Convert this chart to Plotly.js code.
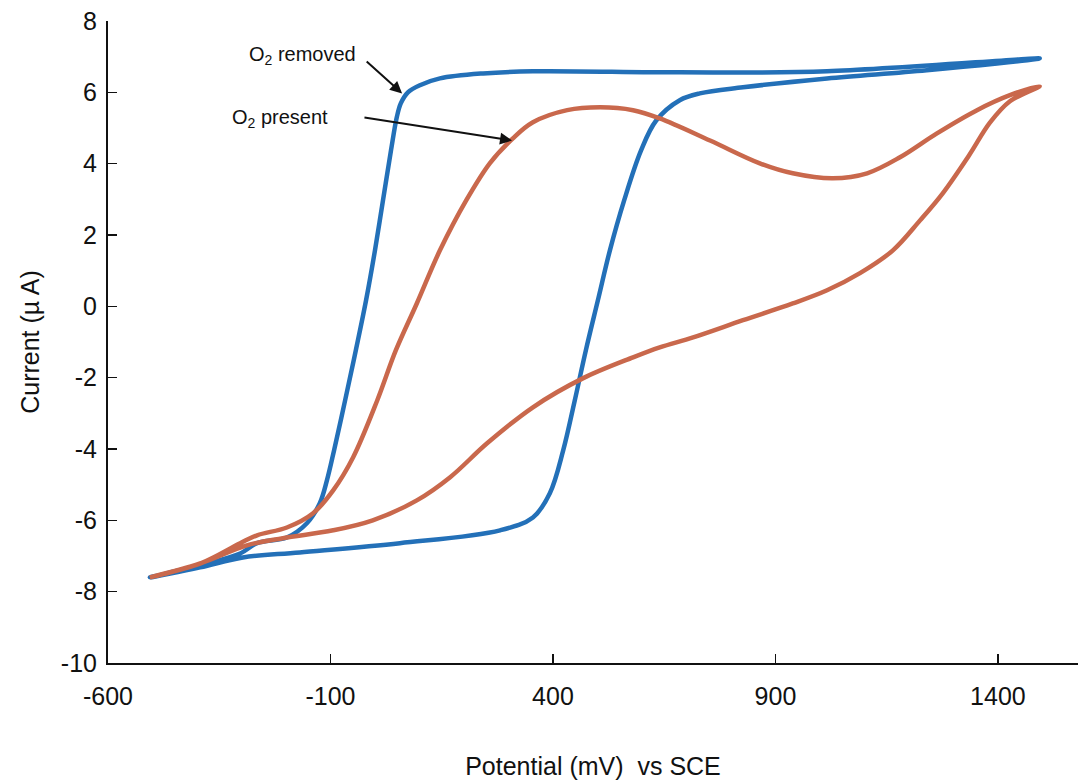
<!DOCTYPE html>
<html>
<head>
<meta charset="utf-8">
<script src="https://cdn.plot.ly/plotly-3.0.1.min.js"></script>
<style>html,body{margin:0;padding:0;background:#fff;}</style>
</head>
<body>
<div id="chart" style="width:1078px;height:784px;"></div>
<script>
// O2 removed (blue) : potential (mV) and current (uA), one full cycle
const removedV = [-506,-393,-297,-169,56,281,355,393,423,449,474,501,528,560,598,632,685,730,827,1016,1240,1494,
                  1016,685,355,243,146,101,74,58,49,36,18,0,-20,-43,-67,-92,-108,-124,-153,-198,-265,-303,-393,-506];
const removedI = [-7.60,-7.32,-7.04,-6.90,-6.64,-6.28,-5.92,-5.24,-4.04,-2.64,-1.23,0.17,1.57,2.97,4.37,5.21,5.78,5.97,6.14,6.39,6.62,6.95,
                  6.59,6.56,6.59,6.53,6.39,6.20,6.00,5.69,5.30,4.37,2.97,1.57,0.17,-1.23,-2.63,-4.04,-4.88,-5.52,-6.08,-6.48,-6.64,-6.93,-7.26,-7.60];
// O2 present (orange)
const presentV = [-506,-393,-303,-265,-198,-139,-94,-49,5,47,94,146,205,258,310,355,432,506,580,640,753,865,939,1029,1106,1180,1263,1353,1427,1494,
                  1427,1382,1335,1276,1225,1164,1090,1016,939,827,715,640,580,467,355,252,169,94,-5,-94,-207,-288,-393,-506];
const presentI = [-7.60,-7.21,-6.64,-6.42,-6.20,-5.80,-5.16,-4.23,-2.64,-1.23,0.08,1.57,2.97,4.01,4.71,5.16,5.50,5.58,5.50,5.27,4.65,4.01,3.73,3.59,3.73,4.18,4.85,5.50,5.92,6.17,
                  5.75,5.15,4.23,3.17,2.41,1.57,0.93,0.45,0.08,-0.39,-0.87,-1.15,-1.43,-2.02,-2.83,-3.84,-4.79,-5.44,-6.00,-6.28,-6.50,-6.70,-7.21,-7.60];
const xTicks = [-600,-100,400,900,1400];
const yTicks = [-10,-8,-6,-4,-2,0,2,4,6,8];
const labelRemoved = 'O<sub>2</sub> removed';
const labelPresent = 'O<sub>2</sub> present';

const FONT = 'Liberation Sans, Arial, sans-serif';
const traces = [
  {x: removedV, y: removedI, mode: 'lines', name: labelRemoved,
   line: {color: '#2370b8', width: 4.5, shape: 'spline', smoothing: 1}},
  {x: presentV, y: presentI, mode: 'lines', name: labelPresent,
   line: {color: '#c9684c', width: 4.5, shape: 'spline', smoothing: 1}}
];
const layout = {
  width: 1078, height: 784,
  margin: {l: 108, r: 0, t: 21, b: 121},
  paper_bgcolor: '#fff', plot_bgcolor: '#fff',
  showlegend: false,
  font: {family: FONT, color: '#111', size: 25},
  xaxis: {
    range: [-600, 1580], tickvals: xTicks, ticktext: xTicks.map(String),
    ticks: 'inside', ticklen: 9, tickwidth: 1.5, tickcolor: '#111',
    showline: true, linecolor: '#111', linewidth: 2, showgrid: false, zeroline: false,
    tickfont: {size: 25, family: FONT}, ticklabelstandoff: 10,
    title: {text: 'Potential (mV)  vs SCE', font: {size: 25, family: FONT}, standoff: 48}
  },
  yaxis: {
    range: [-10, 8], tickvals: yTicks, ticktext: yTicks.map(String),
    ticks: 'inside', ticklen: 9, tickwidth: 1.5, tickcolor: '#111',
    showline: true, linecolor: '#111', linewidth: 2, showgrid: false, zeroline: false,
    tickfont: {size: 25, family: FONT}, ticklabelstandoff: 4,
    title: {text: 'Current (\u00b5 A)', font: {size: 25, family: FONT}, standoff: 14}
  },
  annotations: [
    {x: -164, y: 7.04, xref: 'x', yref: 'y', text: labelRemoved, showarrow: false, font: {size: 20, family: FONT}},
    {x: -214, y: 5.27, xref: 'x', yref: 'y', text: labelPresent, showarrow: false, font: {size: 20, family: FONT}},
    {x: 61, y: 5.97, ax: -22, ay: 6.90, xref: 'x', yref: 'y', axref: 'x', ayref: 'y', text: '', showarrow: true,
     arrowhead: 2, arrowsize: 1.2, arrowwidth: 2, arrowcolor: '#111'},
    {x: 308, y: 4.65, ax: -27, ay: 5.30, xref: 'x', yref: 'y', axref: 'x', ayref: 'y', text: '', showarrow: true,
     arrowhead: 2, arrowsize: 1.2, arrowwidth: 2, arrowcolor: '#111'}
  ]
};
Plotly.newPlot('chart', traces, layout, {displayModeBar: false, staticPlot: true});
</script>
</body>
</html>
